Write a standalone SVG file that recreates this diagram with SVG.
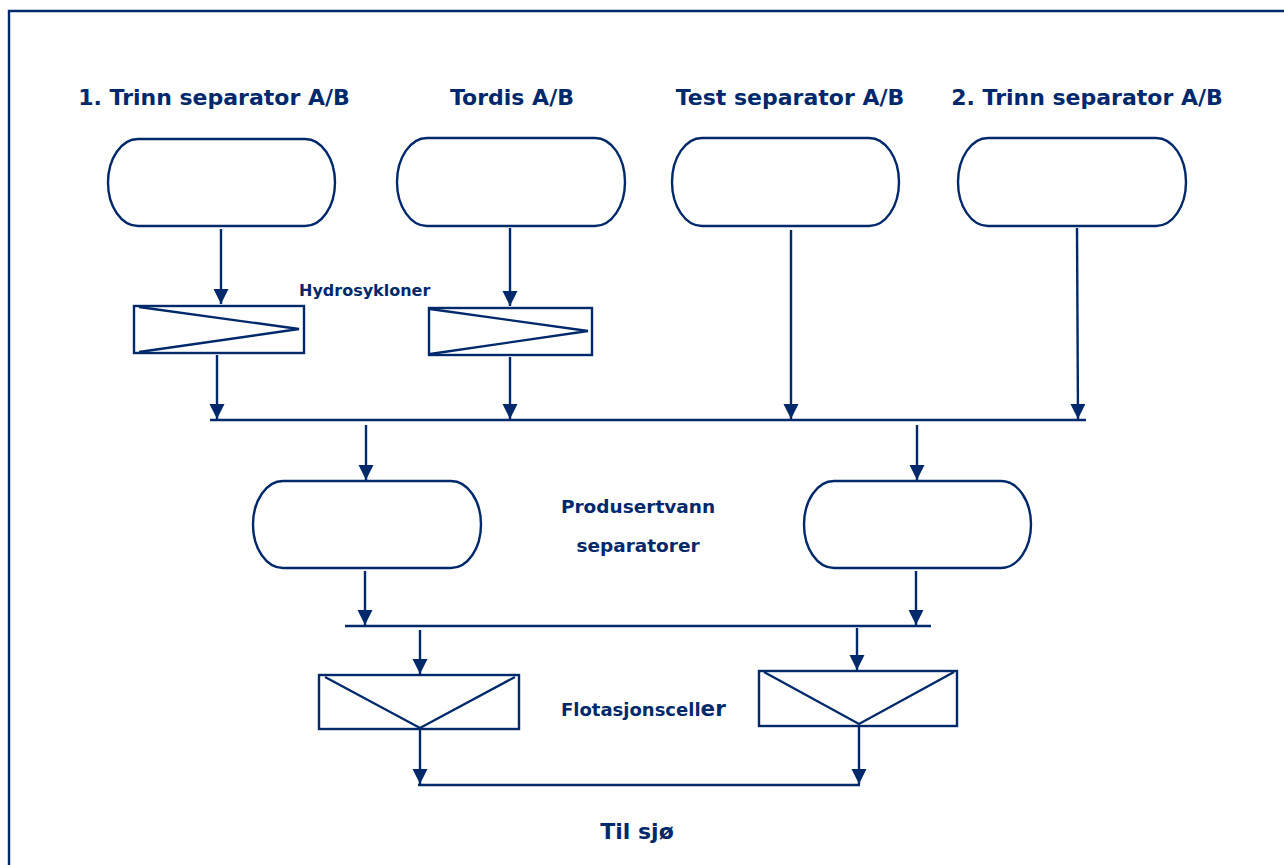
<svg xmlns="http://www.w3.org/2000/svg" width="1284" height="865" viewBox="0 0 1284 865">
  <style>
    .ln { stroke: #00296b; stroke-width: 2.4; fill: none; }
    .box { stroke: #00296b; stroke-width: 2.4; fill: #ffffff; }
    .lbl { font-family: "DejaVu Sans", Verdana, sans-serif; font-weight: bold; fill: #00296b; }
    .head { font-size: 22px; }
  </style>
  <defs>
    <marker id="arrow" markerUnits="userSpaceOnUse" markerWidth="16" markerHeight="16" refX="15" refY="7.5" orient="auto">
      <path d="M0,0 L15,7.5 L0,15 z" fill="#00296b"/>
    </marker>
  </defs>

  <rect x="0" y="0" width="1284" height="865" fill="#ffffff"/>
  <!-- frame (open to the right and bottom) -->
  <path class="ln" d="M9,870 V11 H1290"/>

  <!-- source headings -->
  <text class="lbl head" x="214" y="105" text-anchor="middle">1. Trinn separator A/B</text>
  <text class="lbl head" x="512" y="105" text-anchor="middle">Tordis A/B</text>
  <text class="lbl head" x="790" y="105" text-anchor="middle">Test separator A/B</text>
  <text class="lbl head" x="1087" y="105" text-anchor="middle">2. Trinn separator A/B</text>

  <!-- source separators -->
  <g id="sep-trinn1">
    <rect class="box" x="108" y="139" width="227" height="87" rx="30" ry="43.5"/>
  </g>
  <g id="sep-tordis">
    <rect class="box" x="397" y="138" width="228" height="88" rx="30" ry="44"/>
  </g>
  <g id="sep-test">
    <rect class="box" x="672" y="138" width="227" height="88" rx="30" ry="44"/>
  </g>
  <g id="sep-trinn2">
    <rect class="box" x="958" y="138" width="228" height="88" rx="30" ry="44"/>
  </g>

  <!-- hydrocyclones -->
  <text class="lbl" x="299" y="296" font-size="16">Hydrosykloner</text>
  <g id="hydro-1">
    <rect class="box" x="134" y="306" width="170" height="47"/>
    <path class="ln" d="M139,307 L299,329 L139,352"/>
  </g>
  <g id="hydro-2">
    <rect class="box" x="429" y="308" width="163" height="47"/>
    <path class="ln" d="M430,309 L588,331 L430,354"/>
  </g>

  <!-- produced water separators -->
  <g id="pw-sep-1">
    <rect class="box" x="253" y="481" width="228" height="87" rx="30" ry="43.5"/>
  </g>
  <g id="pw-sep-2">
    <rect class="box" x="804" y="481" width="227" height="87" rx="30" ry="43.5"/>
  </g>
  <text class="lbl" x="638" y="513" font-size="18.5" text-anchor="middle">Produsertvann</text>
  <text class="lbl" x="638" y="552" font-size="18.5" text-anchor="middle">separatorer</text>

  <!-- flotation cells -->
  <g id="flot-1">
    <rect class="box" x="319" y="675" width="200" height="54"/>
    <path class="ln" d="M325,677 L420,728 L515,677"/>
  </g>
  <g id="flot-2">
    <rect class="box" x="759" y="671" width="198" height="55"/>
    <path class="ln" d="M764,672 L859,724 L954,672"/>
  </g>
  <text class="lbl" x="561" y="716" font-size="18">Flotasjonscell<tspan font-size="21.5">er</tspan></text>

  <text class="lbl" x="637" y="839" font-size="22" text-anchor="middle">Til sjø</text>

  <!-- connectors -->
  <g id="connectors">
    <line class="ln" x1="221" y1="229" x2="221" y2="304" marker-end="url(#arrow)"/>
    <line class="ln" x1="510" y1="228" x2="510" y2="306" marker-end="url(#arrow)"/>
    <line class="ln" x1="217" y1="355" x2="217" y2="419" marker-end="url(#arrow)"/>
    <line class="ln" x1="510" y1="357" x2="510" y2="419" marker-end="url(#arrow)"/>
    <line class="ln" x1="791" y1="230" x2="791" y2="419" marker-end="url(#arrow)"/>
    <line class="ln" x1="1077" y1="228" x2="1078" y2="419" marker-end="url(#arrow)"/>
    <line class="ln" x1="210" y1="420" x2="1086" y2="420"/>

    <line class="ln" x1="366" y1="425" x2="366" y2="480" marker-end="url(#arrow)"/>
    <line class="ln" x1="917" y1="425" x2="917" y2="480" marker-end="url(#arrow)"/>

    <line class="ln" x1="365" y1="571" x2="365" y2="625" marker-end="url(#arrow)"/>
    <line class="ln" x1="916" y1="571" x2="916" y2="625" marker-end="url(#arrow)"/>
    <line class="ln" x1="345" y1="626" x2="931" y2="626"/>

    <line class="ln" x1="420" y1="630" x2="420" y2="674" marker-end="url(#arrow)"/>
    <line class="ln" x1="857" y1="628" x2="857" y2="670" marker-end="url(#arrow)"/>

    <line class="ln" x1="420" y1="730" x2="420" y2="784" marker-end="url(#arrow)"/>
    <line class="ln" x1="859" y1="727" x2="859" y2="784" marker-end="url(#arrow)"/>
    <line class="ln" x1="418" y1="785" x2="860" y2="785"/>
  </g>
</svg>
